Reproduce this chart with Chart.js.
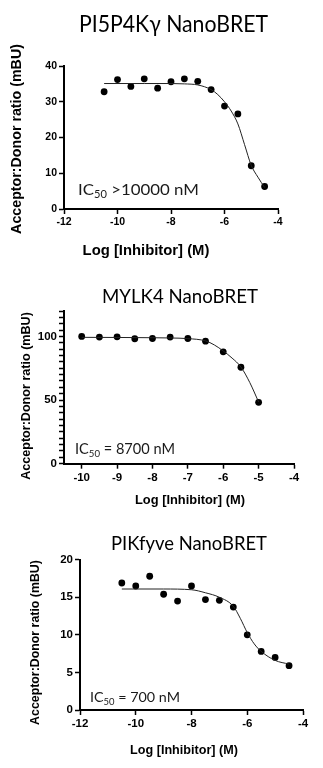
<!DOCTYPE html>
<html>
<head>
<meta charset="utf-8">
<script src="https://cdn.jsdelivr.net/npm/chart.js@4.4.1/dist/chart.umd.min.js"></script>
<style>
  html, body { margin: 0; padding: 0; background: #fff; }
  canvas { position: absolute; left: 0; }
</style>
</head>
<body>
<canvas id="c1" width="323" height="262" style="top:0"></canvas>
<canvas id="c2" width="323" height="248" style="top:262px"></canvas>
<canvas id="c3" width="323" height="258" style="top:510px"></canvas>
<script>
// ---- PI5P4Kγ ----
const pi5LogX = [-10.5, -10, -9.5, -9, -8.5, -8, -7.5, -7, -6.5, -6, -5.5, -5, -4.5];
const pi5Ratio = [32.8, 36.2, 34.3, 36.4, 33.8, 35.6, 36.4, 35.7, 33.4, 28.8, 26.6, 12.1, 6.3];
const pi5FitX = [-10.5, -9, -8, -7.5, -7, -6.5, -6.25, -6, -5.75, -5.5, -5.25, -5, -4.75, -4.5];
const pi5FitY = [35.1, 35.1, 35.1, 35.0, 34.7, 33.4, 32.0, 30.0, 27.4, 23.8, 18.0, 12.2, 8.9, 6.0];
const pi5XTicks = [-12, -10, -8, -6, -4];
const pi5YTicks = [0, 10, 20, 30, 40];

// ---- MYLK4 ----
const mylkLogX = [-10, -9.5, -9, -8.5, -8, -7.5, -7, -6.5, -6, -5.5, -5];
const mylkRatio = [100, 99.5, 99.7, 98.2, 98.4, 99.5, 98.4, 96.3, 87.9, 75.8, 48.2];
const mylkFitX = [-10, -9, -8, -7.5, -7, -6.5, -6.25, -6, -5.75, -5.5, -5.25, -5];
const mylkFitY = [99.3, 99.2, 99.0, 98.8, 98.3, 96.5, 93.3, 88.6, 83.0, 76.0, 63.8, 48.5];
const mylkXTicks = [-10, -9, -8, -7, -6, -5, -4];
const mylkYTicks = [0, 50, 100];
const mylkYMinorStep = 5;

// ---- PIKfyve ----
const pikLogX = [-10.5, -10, -9.5, -9, -8.5, -8, -7.5, -7, -6.5, -6, -5.5, -5, -4.5];
const pikRatio = [16.9, 16.5, 17.8, 15.4, 14.5, 16.5, 14.7, 14.6, 13.7, 10.0, 7.8, 7.0, 5.9];
const pikFitX = [-10.5, -9, -8, -7.5, -7, -6.5, -6.25, -6, -5.75, -5.5, -5, -4.5];
const pikFitY = [16.1, 16.1, 16.0, 15.6, 15.0, 13.8, 12.2, 10.3, 8.8, 7.8, 6.6, 6.1];
const pikXTicks = [-12, -10, -8, -6, -4];
const pikYTicks = [0, 5, 10, 15, 20];

const TITLE_FONT = 'Lato, "Open Sans", sans-serif';
const AXIS_FONT = '"Liberation Sans", Arial, sans-serif';
const CAP = 0.717; // Lato cap height / em

function fitSize(ctx, text, font, target) {
  ctx.font = font.replace('SIZE', '100px');
  return 100 * target / ctx.measureText(text).width;
}

// text set by cap height, then squeezed sideways to the wanted width
function capText(ctx, text, cx, cy, cap, width) {
  const s = cap / CAP;
  ctx.font = s + 'px ' + TITLE_FONT;
  const sx = width / ctx.measureText(text).width;
  ctx.save();
  ctx.translate(cx, cy + cap / 2);
  ctx.scale(sx, 1);
  ctx.textAlign = 'center';
  ctx.textBaseline = 'alphabetic';
  ctx.fillText(text, 0, 0);
  ctx.restore();
}

// draws titles, axis titles and the IC50 note at fixed spots
const textPlugin = {
  id: 'texts',
  afterDraw(chart, args, o) {
    const ctx = chart.ctx;
    ctx.save();
    ctx.fillStyle = '#000';

    capText(ctx, o.title, o.titleX, o.titleY, o.titleCap, o.titleW);

    // x axis title
    ctx.textAlign = 'center';
    let s = fitSize(ctx, o.xTitle, 'bold SIZE ' + AXIS_FONT, o.xTitleW);
    ctx.font = 'bold ' + s + 'px ' + AXIS_FONT;
    ctx.textBaseline = 'middle';
    ctx.fillText(o.xTitle, o.xTitleX, o.xTitleY);

    // y axis title
    s = fitSize(ctx, o.yTitle, 'bold SIZE ' + AXIS_FONT, o.yTitleW);
    ctx.font = 'bold ' + s + 'px ' + AXIS_FONT;
    ctx.save();
    ctx.translate(o.yTitleX, o.yTitleY);
    ctx.rotate(-Math.PI / 2);
    ctx.fillText(o.yTitle, 0, 0);
    ctx.restore();

    // IC50 label
    ctx.fillStyle = '#1a1a1a';
    ctx.textAlign = 'left';
    ctx.textBaseline = 'alphabetic';
    s = o.icCap / CAP;
    const sub = s * 0.66;
    ctx.font = s + 'px ' + TITLE_FONT;
    const wIC = ctx.measureText('IC').width, wRest = ctx.measureText(o.icRest).width;
    ctx.font = sub + 'px ' + TITLE_FONT;
    const wSub = ctx.measureText('50').width;
    const sx = o.icW / (wIC + wRest + wSub);
    ctx.translate(o.icX, o.icY + o.icCap / 2);
    ctx.scale(sx, 1);
    ctx.font = s + 'px ' + TITLE_FONT;
    ctx.fillText('IC', 0, 0);
    ctx.font = sub + 'px ' + TITLE_FONT;
    ctx.fillText('50', wIC, s * 0.2);
    ctx.font = s + 'px ' + TITLE_FONT;
    ctx.fillText(o.icRest, wIC + wSub, 0);
    ctx.restore();
  }
};

function xAxis(min, max, ticks, size, h) {
  return {
    type: 'linear', min: min, max: max,
    afterBuildTicks: sc => { sc.ticks = ticks.map(v => ({ value: v })); },
    afterFit: sc => { sc.height = h; },
    border: { display: true, color: '#000', width: 2 },
    grid: { drawOnChartArea: false, drawTicks: true, tickLength: 5, tickColor: '#000', tickWidth: 1.5 },
    ticks: { color: '#000', padding: 2, maxRotation: 0, autoSkip: false,
             font: { family: AXIS_FONT, weight: 'bold', size: size } }
  };
}

function yAxis(min, max, ticks, labels, size, w) {
  return {
    type: 'linear', min: min, max: max,
    afterBuildTicks: sc => { sc.ticks = ticks.map(v => ({ value: v })); },
    afterFit: sc => { sc.width = w; },
    border: { display: true, color: '#000', width: 2 },
    grid: { drawOnChartArea: false, drawTicks: true, tickLength: 5, tickColor: '#000', tickWidth: 1.5 },
    ticks: { color: '#000', padding: 2, autoSkip: false,
             callback: v => labels.includes(v) ? v : '',
             font: { family: AXIS_FONT, weight: 'bold', size: size } }
  };
}

function makeChart(id, p) {
  const cv = document.getElementById(id);
  const H = cv.height;
  return new Chart(cv, {
    type: 'scatter',
    data: {
      datasets: [
        { data: p.fitX.map((x, i) => ({ x: x, y: p.fitY[i] })), showLine: true,
          borderColor: '#222', borderWidth: 1, pointRadius: 0, cubicInterpolationMode: 'monotone' },
        { data: p.xs.map((x, i) => ({ x: x, y: p.ys[i] })), showLine: false,
          pointRadius: 3.4, backgroundColor: '#000', borderColor: '#000', borderWidth: 0 }
      ]
    },
    options: {
      responsive: false,
      animation: false,
      layout: { padding: { left: 0, right: 323 - p.area.right, top: p.area.top,
                           bottom: H - p.area.bottom - p.xH } },
      scales: { x: p.x, y: p.y },
      plugins: { legend: { display: false }, tooltip: { enabled: false }, texts: p.text }
    },
    plugins: [textPlugin]
  });
}

const mylkYAll = [];
for (let v = 0; v <= 120; v += mylkYMinorStep) mylkYAll.push(v);

makeChart('c1', {
  xs: pi5LogX, ys: pi5Ratio, fitX: pi5FitX, fitY: pi5FitY,
  area: { left: 64, right: 278, top: 66, bottom: 209 }, xH: 24,
  x: xAxis(-12, -4, pi5XTicks, 10.5, 24),
  y: yAxis(0, 40, pi5YTicks, pi5YTicks, 10.5, 64),
  text: { title: 'PI5P4Kγ NanoBRET', titleX: 173.5, titleY: 23.3, titleCap: 16.5, titleW: 189,
          xTitle: 'Log [Inhibitor] (M)', xTitleX: 146, xTitleY: 251, xTitleW: 127,
          yTitle: 'Acceptor:Donor ratio (mBU)', yTitleX: 17, yTitleY: 139, yTitleW: 190,
          icRest: ' >10000 nM', icX: 78, icY: 189, icCap: 11.6, icW: 121 }
});

makeChart('c2', {
  xs: mylkLogX, ys: mylkRatio, fitX: mylkFitX, fitY: mylkFitY,
  area: { left: 64, right: 294, top: 49, bottom: 201.7 }, xH: 24,
  x: xAxis(-10.5, -4, mylkXTicks, 11.5, 24),
  y: yAxis(0, 120, mylkYAll, mylkYTicks, 11.5, 64),
  text: { title: 'MYLK4 NanoBRET', titleX: 180, titleY: 34.7, titleCap: 13.3, titleW: 156,
          xTitle: 'Log [Inhibitor] (M)', xTitleX: 190, xTitleY: 238, xTitleW: 110,
          yTitle: 'Acceptor:Donor ratio (mBU)', yTitleX: 26.5, yTitleY: 134, yTitleW: 168,
          icRest: ' = 8700 nM', icX: 75, icY: 186.5, icCap: 10.7, icW: 100 }
});

makeChart('c3', {
  xs: pikLogX, ys: pikRatio, fitX: pikFitX, fitY: pikFitY,
  area: { left: 80, right: 303, top: 49.7, bottom: 200 }, xH: 24,
  x: xAxis(-12, -4, pikXTicks, 11.5, 24),
  y: yAxis(0, 20, pikYTicks, pikYTicks, 11.5, 80),
  text: { title: 'PIKfyve NanoBRET', titleX: 189, titleY: 33, titleCap: 13.3, titleW: 156,
          xTitle: 'Log [Inhibitor] (M)', xTitleX: 184, xTitleY: 241, xTitleW: 108,
          yTitle: 'Acceptor:Donor ratio (mBU)', yTitleX: 36, yTitleY: 132.5, yTitleW: 165,
          icRest: ' = 700 nM', icX: 90, icY: 187.5, icCap: 9.8, icW: 90 }
});
</script>
</body>
</html>
